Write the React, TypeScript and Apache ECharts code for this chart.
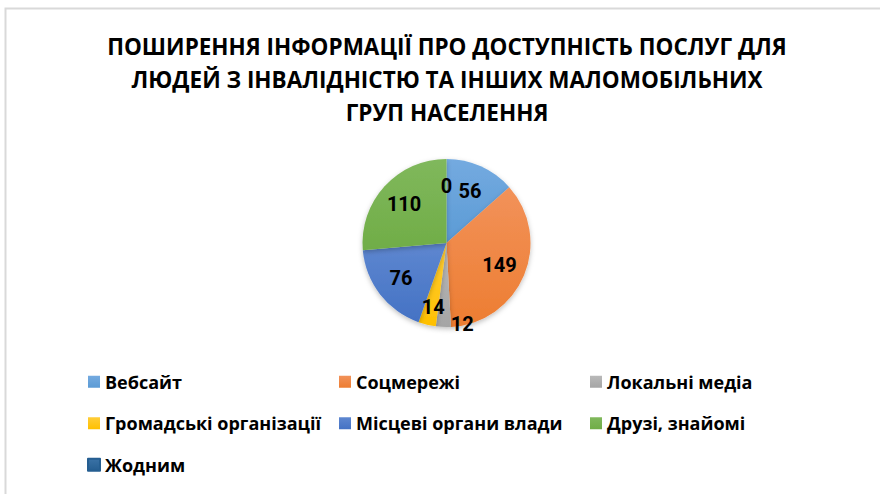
import React, { useEffect, useRef } from "react";
import * as echarts from "echarts";

const titleText =
  "ПОШИРЕННЯ ІНФОРМАЦІЇ ПРО ДОСТУПНІСТЬ ПОСЛУГ ДЛЯ\nЛЮДЕЙ З ІНВАЛІДНІСТЮ ТА ІНШИХ МАЛОМОБІЛЬНИХ\nГРУП НАСЕЛЕННЯ";
const categories = [
  "Вебсайт",
  "Соцмережі",
  "Локальні медіа",
  "Громадські організації",
  "Місцеві органи влади",
  "Друзі, знайомі",
  "Жодним",
];
const values = [56, 149, 12, 14, 76, 110, 0];
const baseColors = ["#5B9BD5", "#ED7D31", "#A5A5A5", "#FFC000", "#4472C4", "#70AD47", "#255E91"];
const topColors = ["#74AAE0", "#F2925A", "#B9B9B9", "#FFCD38", "#5E87D0", "#80B85C", "#3A72A6"];

const FONT = "Roboto, 'Liberation Sans', sans-serif";
const WIDE = "'Open Sans', Roboto, sans-serif";

export default function App() {
  const ref = useRef<HTMLDivElement>(null);
  useEffect(() => {
    if (!ref.current) return;
    const chart = echarts.init(ref.current, undefined, { renderer: "svg" });
    const grad = (i: number) =>
      new echarts.graphic.LinearGradient(0, 0, 0, 1, [
        { offset: 0, color: topColors[i] },
        { offset: 1, color: baseColors[i] },
      ]);
    const visData = categories.map((name, i) => ({
      name,
      value: values[i],
      itemStyle: {
        color: grad(i),
        borderColor: values[i] === 0 ? baseColors[i] : "rgba(0,0,0,0)",
        borderWidth: values[i] === 0 ? 1 : 0,
      },
    }));
    const labelData = categories.map((name, i) => ({ name, value: values[i] }));
    chart.setOption({
      animation: false,
      backgroundColor: "#ffffff",
      title: {
        text: titleText,
        left: 447,
        top: 30,
        padding: 0,
        textAlign: "center",
        textStyle: {
          fontFamily: WIDE,
          fontWeight: "bold",
          fontSize: 22.5,
          lineHeight: 33,
          color: "#000000",
        },
      },
      legend: {
        data: categories,
        left: 82,
        top: 356,
        width: 770,
        orient: "horizontal",
        itemWidth: 12,
        itemHeight: 12,
        itemGap: 0,
        icon: "rect",
        selectedMode: false,
        textStyle: {
          fontFamily: WIDE,
          fontWeight: "bold",
          fontSize: 18,
          color: "#000000",
          width: 234,
          lineHeight: 41.5,
          overflow: "none",
        },
      },
      graphic: [
        {
          type: "rect",
          z: -10,
          shape: { x: 5.5, y: 8.5, width: 900, height: 500 },
          style: { fill: "none", stroke: "#d9d9d9", lineWidth: 2 },
        },
      ],
      series: [
        {
          type: "pie",
          center: [446.5, 243],
          radius: [0, 84],
          startAngle: 90,
          clockwise: true,
          silent: true,
          label: { show: false },
          labelLine: { show: false },
          itemStyle: {
            shadowBlur: 5,
            shadowOffsetY: 2,
            shadowColor: "rgba(0,0,0,0.25)",
          },
          data: visData,
        },
        {
          type: "pie",
          center: [446.5, 243],
          radius: [25, 84],
          startAngle: 90,
          clockwise: true,
          silent: true,
          itemStyle: { color: "rgba(0,0,0,0)", borderWidth: 0 },
          emphasis: { disabled: true },
          label: {
            show: true,
            position: "inside",
            formatter: "{c}",
            fontFamily: FONT,
            fontWeight: "bold",
            fontSize: 20,
            color: "#000000",
          },
          labelLine: { show: false },
          labelLayout: (params: any) => {
            if (params.dataIndex === 2) return { dx: 18, dy: 24 };
            if (params.dataIndex === 3) return { dy: 8 };
            return {};
          },
          data: labelData,
        },
      ],
    });
    return () => chart.dispose();
  }, []);
  return (
    <div
      ref={ref}
      style={{ position: "absolute", left: 0, top: 0, width: 880, height: 494, background: "#fff" }}
    />
  );
}
